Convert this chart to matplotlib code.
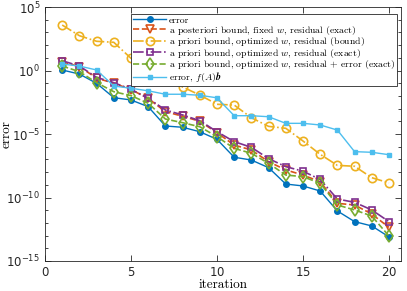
import numpy as np
import matplotlib
matplotlib.use("Agg")
from matplotlib import pyplot as plt
from matplotlib.ticker import FixedLocator, NullFormatter

plt.rcParams['mathtext.fontset'] = 'cm'
plt.rcParams['font.family'] = 'DejaVu Sans'
plt.rcParams['axes.formatter.use_mathtext'] = True

it = np.arange(1, 21)

# log10 of the values
err = [0.04, -0.28, -1.01, -2.14, -2.32, -2.85, -4.37, -4.47, -4.82, -5.42,
       -6.83, -7.05, -7.65, -8.94, -9.09, -9.49, -11.06, -11.9, -12.24, -13.1]
post_fixed = [0.69, 0.30, -0.60, -1.00, -1.50, -2.20, -3.24, -3.60, -4.00, -4.90,
              -5.87, -6.26, -7.18, -7.83, -8.23, -8.76, -10.46, -10.59, -11.30, -12.35]
prio_bound = [3.58, 2.74, 2.30, 2.22, 0.96, 0.20, -0.60, -1.30, -1.93, -2.66,
              -2.72, -3.72, -4.40, -4.55, -5.55, -6.60, -7.47, -7.54, -8.44, -8.85]
prio_exact = [0.77, 0.35, -0.54, -0.96, -1.48, -2.19, -3.11, -3.50, -3.95, -4.82,
              -5.60, -6.05, -6.94, -7.57, -7.93, -8.58, -10.12, -10.38, -10.98, -11.90]
prio_res_err = [0.35, -0.09, -0.96, -1.67, -1.98, -2.58, -3.82, -4.11, -4.43, -5.21,
                -6.13, -6.52, -7.31, -8.23, -8.36, -8.88, -10.59, -10.98, -11.46, -13.03]
err_fab = [0.51, 0.35, 0.04, -1.22, -1.40, -1.60, -1.87, -1.87, -1.95, -2.15,
           -3.56, -3.56, -3.64, -4.16, -4.16, -4.29, -4.69, -6.39, -6.44, -6.63]

labels = [
    'error',
    'a posteriori bound, fixed $w$, residual (exact)',
    'a priori bound, optimized $w$, residual (bound)',
    'a priori bound, optimized $w$, residual (exact)',
    'a priori bound, optimized $w$, residual + error (exact)',
    r'error, $f(A)\boldsymbol{b}$',
]

fig = plt.figure(figsize=(4.07, 2.91), dpi=100)
ax = fig.add_axes([45/407, 1-261/291, (401-45)/407, (261-7)/291])

c_blue = '#0072BD'
c_orange = '#D95319'
c_yellow = '#EDB120'
c_purple = '#7E2F8E'
c_green = '#77AC30'
c_light = '#4DBEEE'

ax.semilogy(it, 10.0**np.array(err), '-', color=c_blue, lw=1, marker='o', ms=4,
            label=labels[0])
ax.semilogy(it, 10.0**np.array(post_fixed), '--', color=c_orange, lw=1.2, marker='v', ms=6,
            mfc='none', mew=1.2, label=labels[1])
ax.semilogy(it, 10.0**np.array(prio_bound), '-.', color=c_yellow, lw=1.2, marker='o', ms=6,
            mfc='none', mew=1.2, label=labels[2])
ax.semilogy(it, 10.0**np.array(prio_exact), '-.', color=c_purple, lw=1.2, marker='s', ms=5,
            mfc='none', mew=1.2, label=labels[3])
ax.semilogy(it, 10.0**np.array(prio_res_err), '--', color=c_green, lw=1.2, marker='d', ms=6,
            mfc='none', mew=1.2, label=labels[4])
ax.semilogy(it, 10.0**np.array(err_fab), '-', color=c_light, lw=1, marker='s', ms=3.5,
            label=labels[5])

ax.set_xlim(0, 20.7)
ax.set_ylim(1e-15, 1e5)
ax.set_xticks([0, 5, 10, 15, 20])
ax.yaxis.set_major_locator(FixedLocator([1e-15, 1e-10, 1e-5, 1e0, 1e5]))
ax.yaxis.set_minor_locator(FixedLocator([10.0**k for k in range(-15, 6)]))
ax.yaxis.set_minor_formatter(NullFormatter())

grey = '#262626'
for s in ax.spines.values():
    s.set_color(grey)
    s.set_linewidth(0.6)
ax.tick_params(which='both', direction='in', top=True, right=True, colors=grey,
               labelsize=8.5, width=0.6)
ax.tick_params(which='major', length=4)
ax.tick_params(which='minor', length=2)

ax.set_xlabel('iteration', fontsize=9.5, family='cmr10', labelpad=0)
ax.set_ylabel('error', fontsize=9.5, family='cmr10')
ax.yaxis.set_label_coords(-0.092, 0.5)

leg = ax.legend(loc='upper right', bbox_to_anchor=(0.989, 0.972),
                prop={'family': 'cmr10', 'size': 7.0},
                frameon=True, fancybox=False, edgecolor=grey, framealpha=1,
                handlelength=3.4, handletextpad=0.25, borderpad=0.2,
                labelspacing=-0.14, borderaxespad=0)
leg.get_frame().set_linewidth(0.6)

fig.savefig('out.png', dpi=100)
